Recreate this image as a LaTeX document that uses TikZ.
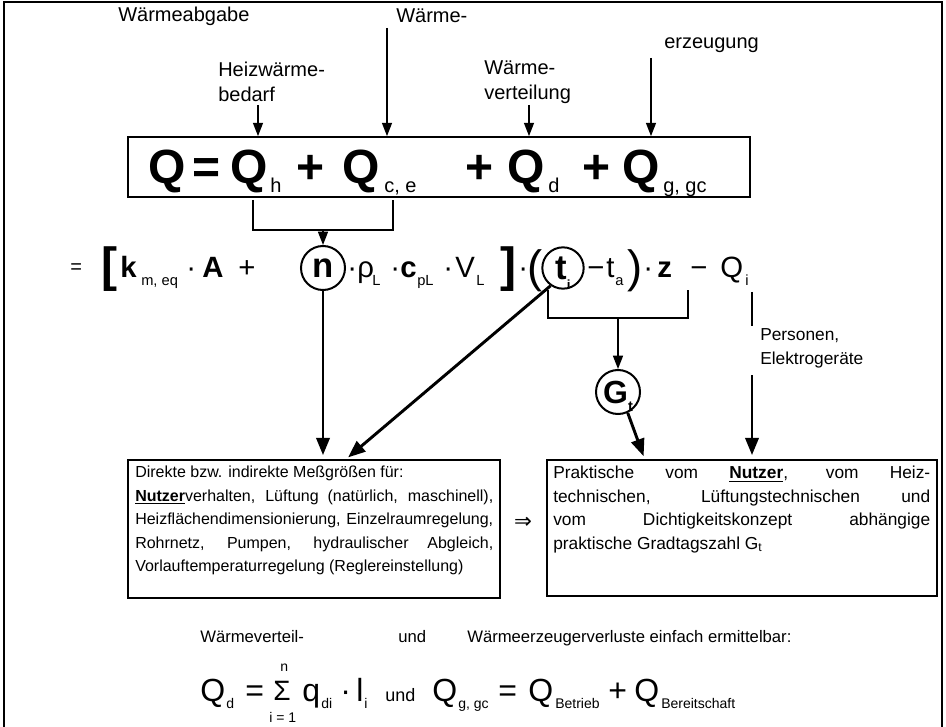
\documentclass[tikz,border=0pt]{standalone}
\usepackage{fontspec}
\setmainfont{Liberation Sans}
\newfontfamily\symfont{DejaVu Sans}
\usetikzlibrary{arrows.meta}
% justified single line of a given width
\newcommand\jline[2]{\makebox[#1][s]{#2}}
% lowered index that does not change the height of its line
\newcommand\lowidx[2]{\raisebox{-#1}[0pt][0pt]{#2}}
\begin{document}
\begin{tikzpicture}[x=0.75pt,y=-0.75pt,
  every node/.style={inner sep=0pt},
  lbl/.style={anchor=west,font=\fontsize{15}{19}\selectfont,align=left},
  txt/.style={anchor=base west,font=\fontsize{12.5}{15}\selectfont},
  big/.style={anchor=base west,font=\fontsize{36}{36}\selectfont\bfseries},
  bigsub/.style={anchor=base west,font=\fontsize{15}{15}\selectfont},
  mid/.style={anchor=base west,font=\fontsize{22}{22}\selectfont},
  midb/.style={anchor=base west,font=\fontsize{22}{22}\selectfont\bfseries},
  sub/.style={anchor=base west,font=\fontsize{11}{11}\selectfont},
  delim/.style={anchor=base west,font=\fontsize{36}{36}\selectfont\bfseries},
  bf/.style={anchor=base west,font=\fontsize{24}{24}\selectfont},
  bsub/.style={anchor=base west,font=\fontsize{10.5}{10.5}\selectfont},
  frame/.style={draw,line width=1.3pt},
  ring/.style={draw,circle,line width=1.5pt},
  conn/.style={line width=1.1pt},
  arr/.style={line width=1.1pt,-{Triangle[length=10pt,width=7.5pt]}},
  bigarr/.style={line width=2.2pt,-{Triangle[length=13pt,width=10pt]},shorten >=3pt},
]
\useasboundingbox (0,0) rectangle (946,727);

% outer frame
\draw[line width=1.5pt] (4,727) -- (4,2) -- (942,2) -- (942,727);

% labels above the balance
\node[lbl] (wab) at (118,16) {Wärmeabgabe};
\node[lbl] (wae) at (396,16) {Wärme-};
\node[lbl] (erz) at (664,45) {erzeugung};
\node[lbl] (hwb) at (218,82) {Heizwärme-\\bedarf};
\node[lbl] (wvt) at (484,82) {Wärme-\\verteilung};

% energy balance
\node[frame,minimum width=466.5pt,minimum height=45pt] (B1) at (439,167) {};
\node[big] (q0) at (148,184) {Q};
\node[big] (eq0) at (192,184) {=};
\node[big] (qh) at (230,184) {Q};
\node[bigsub] (sh) at (270,193) {h};
\node[big] (p1) at (296,184) {+};
\node[big] (qce) at (342,184) {Q};
\node[bigsub] (sce) at (384,193) {c, e};
\node[big] (p2) at (465,184) {+};
\node[big] (qd) at (507,184) {Q};
\node[bigsub] (sd) at (548,193) {d};
\node[big] (p3) at (582,184) {+};
\node[big] (qg) at (622,184) {Q};
\node[bigsub] (sg) at (663,193) {g, gc};

\coordinate (a1) at (258,105);
\coordinate (a2) at (387,28);
\coordinate (a3) at (529,105);
\coordinate (a4) at (651,58);
\foreach \c in {a1,a2,a3,a4} \draw[arr] (\c) -- (\c |- B1.north);

% heat demand expanded
\node[anchor=base west,font=\fontsize{15}{15}\selectfont] (r0) at (70,274) {=};
\node[delim] (lb) at (101,282) {[};
\node[midb] (rk) at (120,278) {k};
\node[sub] (rks) at (141,286) {m, eq};
\node[mid] (d1) at (186,278) {·};
\node[midb] (rA) at (202,278) {A};
\node[mid] (rp) at (238,278) {+};
\node[ring,minimum size=33pt,font=\fontsize{26}{26}\selectfont\bfseries] (n) at (323,268) {n};
\node[mid] (d2) at (347,278) {·};
\node[mid] (rho) at (357,278) {ρ};
\node[sub] (rhos) at (372,286) {L};
\node[mid] (d3) at (390,278) {·};
\node[midb] (rc) at (400,278) {c};
\node[sub] (rcs) at (417,286) {pL};
\node[mid] (d4) at (443,278) {·};
\node[mid] (rV) at (455,278) {V};
\node[sub] (rVs) at (476,286) {L};
\node[delim] (rb) at (500,282) {]};
\node[mid] (d5) at (518,278) {·};
\node[anchor=base west,font=\fontsize{34}{34}\selectfont] (lp) at (527,283) {(};
\node[ring,minimum size=31pt] (ti) at (563,268) {\fontsize{26}{26}\selectfont\bfseries t\lowidx{0.3em}{\fontsize{10}{10}\selectfont i}};
\node[mid] (m1) at (587,278) {−};
\node[mid] (rt) at (606,278) {t};
\node[sub] (rts) at (615,286) {a};
\node[anchor=base west,font=\fontsize{34}{34}\selectfont] (rp2) at (627,283) {)};
\node[mid] (d6) at (643,278) {·};
\node[midb] (rz) at (657,278) {z};
\node[mid] (m2) at (690,278) {−};
\node[mid] (rQ) at (720,278) {Q};
\node[sub] (rQs) at (745,286) {i};

% bracket under the first two terms
\coordinate (k1) at (253,200);
\coordinate (k2) at (393,200);
\coordinate (k3) at (323,230);
\draw[conn] (k1) -- ++(0,30) -| (k2);
\draw[arr] (k3) -- (n.north);

% degree days
\node[ring,minimum size=33pt] (Gt) at (618,392) {\fontsize{24}{24}\selectfont\bfseries G\lowidx{0.25em}{\fontsize{11}{11}\selectfont t}};
\coordinate (k4) at (548,290);
\coordinate (k5) at (688,290);
\coordinate (k6) at (618,318);
\draw[conn] (k4) -- ++(0,28) -| (k5);
\draw[arr] (k6) -- (Gt.north);

% result boxes
\node[frame,minimum width=279pt,minimum height=103.5pt] (LB) at (314,529) {};
\node[frame,minimum width=292.5pt,minimum height=102pt] (RB) at (742,528) {};

\node[anchor=north west,font=\fontsize{12}{17.6}\selectfont,align=left] (LT) at (135,466) {%
Direkte bzw. indirekte Meßgrößen für:\\
\jline{268.5pt}{\underline{\textbf{Nutzer}}verhalten, Lüftung (natürlich, maschinell),}\\
\jline{268.5pt}{Heizflächendimensionierung, Einzelraumregelung,}\\
\jline{268.5pt}{Rohrnetz, Pumpen, hydraulischer Abgleich,}\\
Vorlauftemperaturregelung (Reglereinstellung)};
\node[anchor=north west,font=\fontsize{13}{17.6}\selectfont,align=left] (RT) at (553,466) {%
\jline{282.75pt}{Praktische vom \underline{\textbf{Nutzer}}, vom Heiz-}\\
\jline{282.75pt}{technischen, Lüftungstechnischen und}\\
\jline{282.75pt}{vom Dichtigkeitskonzept abhängige}\\
praktische Gradtagszahl G\textsubscript{t}};
\node[font=\symfont\fontsize{16}{16}\selectfont] (imp) at (523,523) {⇒};

% connectors into the boxes
\coordinate (dg) at (345,460);
\coordinate (ge) at (645,460);
\coordinate (q1) at (752,292);
\coordinate (q2) at (752,326);
\coordinate (q3) at (752,375);
\draw[bigarr] (n.south) -- (n.south |- LB.north);
\draw[bigarr] (ti.235) -- (dg);
\draw[bigarr] (Gt.-65) -- (ge);
\draw[line width=2.2pt] (q1) -- (q2);
\node[lbl,font=\fontsize{13}{18}\selectfont] (pe) at (760,348) {Personen,\\Elektrogeräte};
\draw[bigarr] (q3) -- (q3 |- RB.north);

% distribution and generation losses
\node[txt] (bt1) at (200,642) {Wärmeverteil-};
\node[txt] (bt2) at (398,642) {und};
\node[txt] (bt3) at (467,642) {Wärmeerzeugerverluste einfach ermittelbar:};

\node[bf] (fQd) at (200,701) {Q};
\node[bsub] (fd) at (226,708) {d};
\node[bf] (feq) at (245,701) {=};
\node[anchor=base west,font=\fontsize{21}{21}\selectfont] (fS) at (273,700) {Σ};
\node[bsub] (fn) at (280,671) {n};
\node[bsub] (fi1) at (269,722) {i = 1};
\node[bf] (fq) at (302,701) {q};
\node[bsub] (fqs) at (321,708) {di};
\node[bf] (fdot) at (340,701) {·};
\node[bf] (fl) at (356,701) {l};
\node[bsub] (fls) at (364,708) {i};
\node[anchor=base west,font=\fontsize{13.5}{13.5}\selectfont] (fund) at (385,701) {und};
\node[bf] (fQg) at (432,701) {Q};
\node[bsub] (fgs) at (458,708) {g, gc};
\node[bf] (feq2) at (498,701) {=};
\node[bf] (fQb) at (528,701) {Q};
\node[bsub] (fbs) at (555,708) {Betrieb};
\node[bf] (fp) at (608,701) {+};
\node[bf] (fQr) at (634,701) {Q};
\node[bsub] (frs) at (661,708) {Bereitschaft};
\end{tikzpicture}
\end{document}
